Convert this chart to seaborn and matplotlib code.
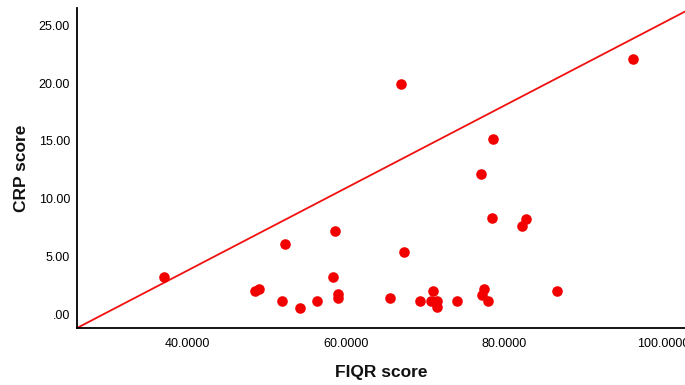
import matplotlib
matplotlib.use("Agg")
import matplotlib.pyplot as plt
import seaborn as sns
import pandas as pd

fiqr = [37.1, 48.6, 49.1, 51.9, 52.3, 54.2, 56.4, 58.6, 58.4, 59.0, 59.0,
        67.0, 67.3, 65.6, 69.4, 71.0, 70.7, 71.5, 71.5, 74.0, 77.1, 77.2,
        96.2, 78.6, 78.5, 82.8, 82.3, 77.5, 77.9, 86.6]
crp = [3.24, 2.03, 2.18, 1.19, 6.07, 0.50, 1.19, 7.20, 3.22, 1.75, 1.40,
       19.94, 5.38, 1.40, 1.19, 2.00, 1.19, 1.19, 0.65, 1.19, 12.15, 1.63,
       22.13, 15.15, 8.32, 8.26, 7.66, 2.20, 1.19, 2.00]

line_x = [26.1, 102.8]
line_y = [-1.19, 26.2]

x_ticks = [40, 60, 80, 100]
x_tick_labels = ["40.0000", "60.0000", "80.0000", "100.0000"]
y_ticks = [0, 5, 10, 15, 20, 25]
y_tick_labels = [".00", "5.00", "10.00", "15.00", "20.00", "25.00"]

df = pd.DataFrame({"FIQR score": fiqr, "CRP score": crp})

sns.set_style("white")
plt.rcParams["font.family"] = ["Liberation Sans", "DejaVu Sans"]

fig = plt.figure(figsize=(6.85, 3.85), dpi=100)
ax = fig.add_axes([0.1124, 0.148, 0.8876, 0.831])

sns.lineplot(x=line_x, y=line_y, ax=ax, color="#f01010", linewidth=1.3, zorder=2)
sns.scatterplot(data=df, x="FIQR score", y="CRP score", ax=ax, color="#f20000",
                s=58, edgecolor="#f20000", linewidth=0, zorder=3)

ax.set_xlim(26.1, 102.8)
ax.set_ylim(-1.19, 26.5)
ax.set_xticks(x_ticks)
ax.set_xticklabels(x_tick_labels)
ax.set_yticks(y_ticks)
ax.set_yticklabels(y_tick_labels)
ax.tick_params(axis="both", length=0, labelsize=9, colors="#000000")
ax.tick_params(axis="x", pad=7)
ax.tick_params(axis="y", pad=5)

for s in ["top", "right"]:
    ax.spines[s].set_visible(False)
for s in ["left", "bottom"]:
    ax.spines[s].set_color("black")
    ax.spines[s].set_linewidth(1.3)

ax.set_xlabel("FIQR score", fontsize=12.5, fontweight="bold", labelpad=11, color="#111111")
ax.set_ylabel("CRP score", fontsize=12.5, fontweight="bold", labelpad=7, color="#111111")

fig.savefig("out.png", dpi=100)
